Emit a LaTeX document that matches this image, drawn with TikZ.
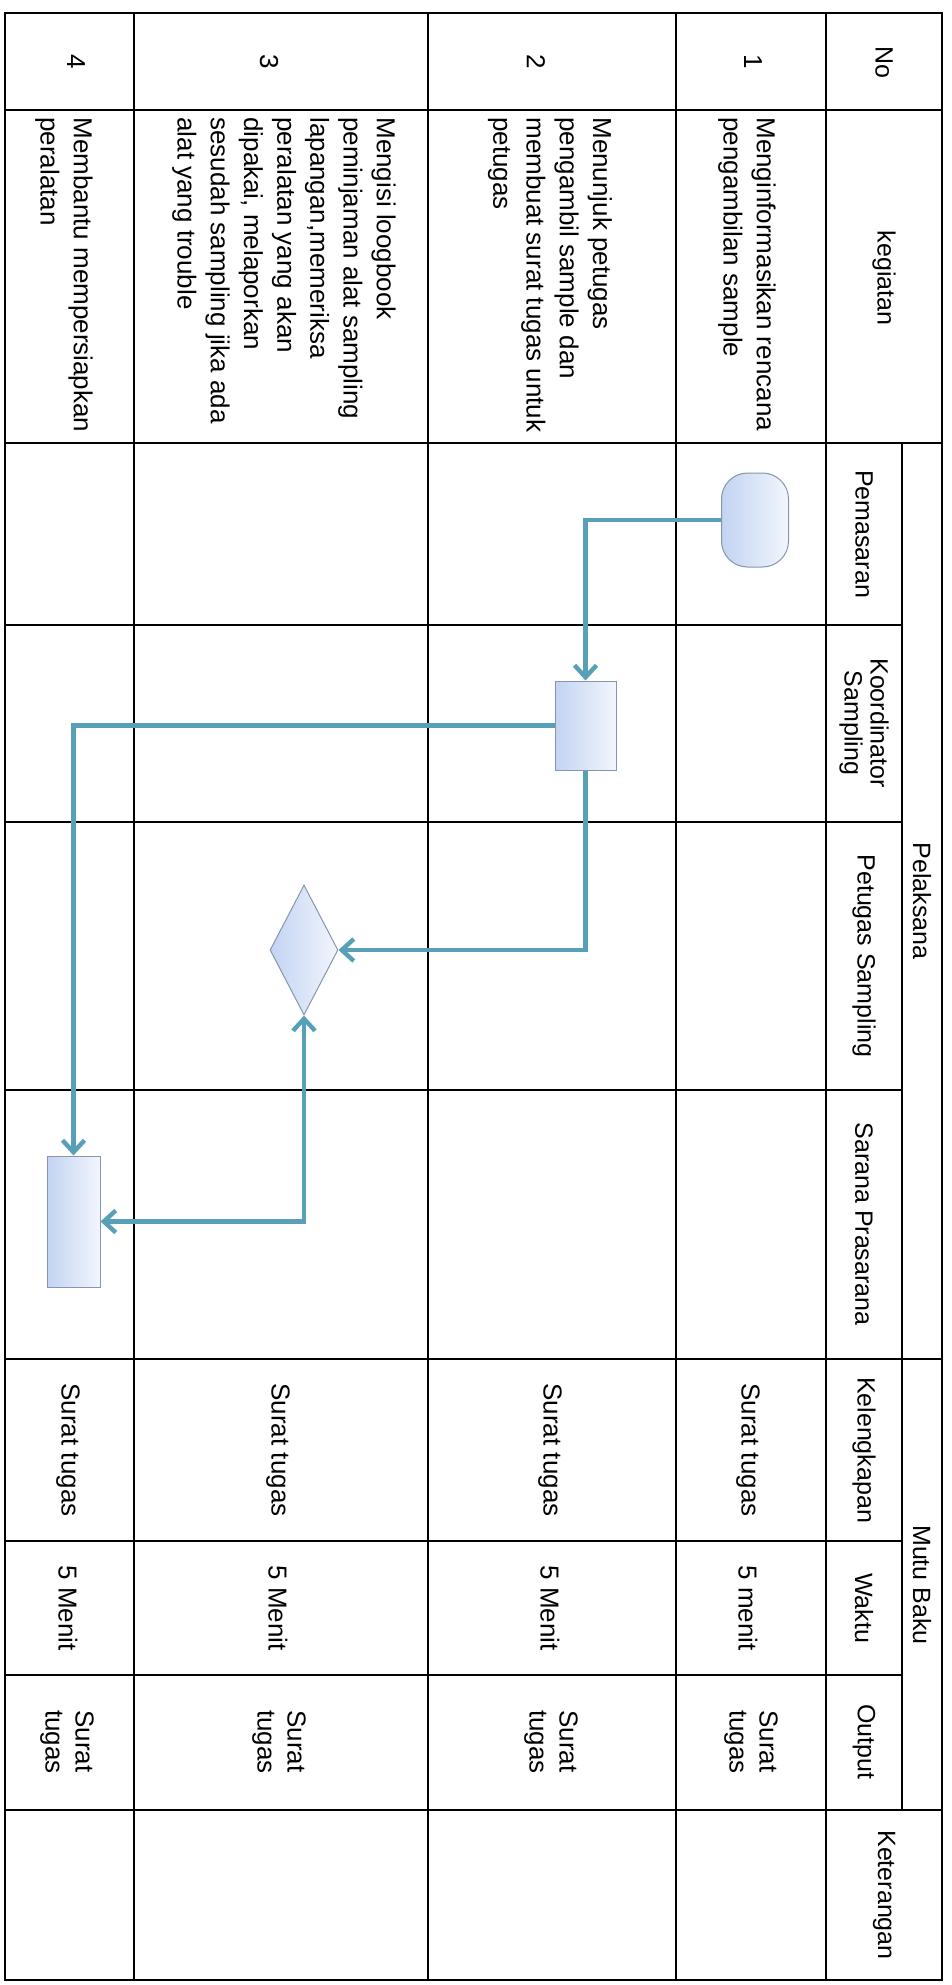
\documentclass[tikz,border=0pt]{standalone}
\usepackage{fontspec}
\setmainfont{Liberation Sans}
\usetikzlibrary{arrows.meta,shapes.geometric}
\definecolor{flow}{RGB}{88,160,184}
\definecolor{shapeedge}{RGB}{135,150,172}
\definecolor{fillA}{RGB}{194,211,242}
\definecolor{fillB}{RGB}{242,246,253}
\begin{document}
\begin{tikzpicture}[x=0.5pt,y=-0.5pt,
  tline/.style={line width=1pt, black},
  hd/.style={rotate=-90, font=\fontsize{12.5}{13}\selectfont, inner sep=0pt, align=center},
  bodytxt/.style={rotate=-90, font=\fontsize{13}{16.6}\selectfont, inner sep=0pt, align=left, anchor=west},
  dat/.style={rotate=-90, font=\fontsize{13}{15}\selectfont, inner sep=0pt, align=left},
  flowline/.style={draw=flow, line width=2.2pt, -{Straight Barb[length=6pt,width=11pt]}},
  boxshape/.style={draw=shapeedge, line width=0.5pt, left color=fillA, right color=fillB, inner sep=0pt}
]
\useasboundingbox (0,0) rectangle (952,1985);
\fill[white] (0,0) rectangle (952,1985);

% table grid
\draw[tline] (5,13) rectangle (942,1980);
\foreach \yy in {110,443,1359,1810} \draw[tline] (5,\yy) -- (942,\yy);
\foreach \yy in {625,822,1090,1541,1675} \draw[tline] (5,\yy) -- (902,\yy);
\foreach \xx in {134,428,676,826} \draw[tline] (\xx,13) -- (\xx,1980);
\draw[tline] (902,443) -- (902,1810);

% headers
\node[hd] (hNo) at (884,62) {No};
\node[hd] (hKeg) at (884,278) {kegiatan};
\node[hd] (hPem) at (864,534) {Pemasaran};
\node[hd] (hKoo) at (864,723) {Koordinator\\Sampling};
\node[hd] (hPet) at (864,956) {Petugas Sampling};
\node[hd] (hSar) at (864,1224) {Sarana Prasarana};
\node[hd] (hPel) at (922,901) {Pelaksana};
\node[hd] (hKel) at (864,1450) {Kelengkapan};
\node[hd] (hWak) at (864,1608) {Waktu};
\node[hd] (hOut) at (864,1742) {Output};
\node[hd] (hMut) at (922,1585) {Mutu Baku};
\node[hd] (hKet) at (884,1895) {Keterangan};

% row numbers
\node[dat] (n1) at (753,62) {1};
\node[dat] (n2) at (536,62) {2};
\node[dat] (n3) at (269,62) {3};
\node[dat] (n4) at (76,62) {4};

% kegiatan
\node[bodytxt] (k1) at (747,117) {Menginformasikan rencana\\pengambilan sample};
\node[bodytxt] (k2) at (550,117) {Menunjuk petugas\\pengambil sample dan\\membuat surat tugas untuk\\petugas};
\node[bodytxt] (k3) at (284,117) {Mengisi loogbook\\peminjaman alat sampling\\lapangan,memeriksa\\peralatan yang akan\\dipakai, melaporkan\\sesudah sampling jika ada\\alat yang trouble};
\node[bodytxt] (k4) at (64,117) {Membantu mempersiapkan\\peralatan};

% mutu baku data
\node[dat] (l1) at (748,1450) {Surat tugas};
\node[dat] (l2) at (550,1450) {Surat tugas};
\node[dat] (l3) at (278,1450) {Surat tugas};
\node[dat] (l4) at (68,1450) {Surat tugas};
\node[dat] (w1) at (748,1608) {5 menit};
\node[dat] (w2) at (550,1608) {5 Menit};
\node[dat] (w3) at (278,1608) {5 Menit};
\node[dat] (w4) at (68,1608) {5 Menit};
\node[dat] (o1) at (751,1742) {Surat\\tugas};
\node[dat] (o2) at (551,1742) {Surat\\tugas};
\node[dat] (o3) at (279,1742) {Surat\\tugas};
\node[dat] (o4) at (67,1742) {Surat\\tugas};

% flow shapes
\node[boxshape, rounded corners=13pt, minimum width=33.5pt, minimum height=47pt] (T) at (755,520) {};
\node[boxshape, minimum width=30.5pt, minimum height=44.5pt] (K) at (585.5,725.5) {};
\node[boxshape, diamond, minimum width=34pt, minimum height=65pt] (D) at (304,950) {};
\node[boxshape, minimum width=26.5pt, minimum height=65.5pt] (S) at (73.5,1221.5) {};

% connectors
\draw[flowline] (T.west) -| (K.north);
\draw[flowline] (K.west) -| (S.north);
\draw[flowline] (K.south) |- (D.east);
\draw[flowline, {Straight Barb[length=6pt,width=11pt]}-{Straight Barb[length=6pt,width=11pt]}] (D.south) |- (S.east);
\end{tikzpicture}
\end{document}
